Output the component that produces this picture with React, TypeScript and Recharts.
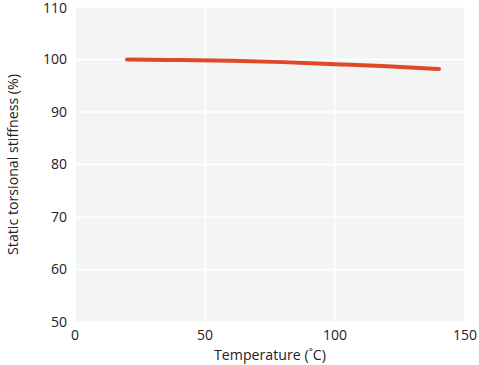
import { LineChart, Line, XAxis, YAxis, CartesianGrid, Label } from 'recharts';

const temperatures = [20, 40, 60, 80, 100, 120, 140];
const stiffness = [100.0, 99.9, 99.75, 99.5, 99.1, 98.7, 98.2];
const xTicks = [0, 50, 100, 150];
const yTicks = [50, 60, 70, 80, 90, 100, 110];

const data = temperatures.map((t, i) => ({ t, s: stiffness[i] }));

const font = '"Open Sans", "Noto Sans", sans-serif';
const tickStyle = { fill: '#222', fontSize: 14, fontFamily: font };

function YTitle({ viewBox }: { viewBox?: { x: number; y: number; width: number; height: number } }) {
  if (!viewBox) return null;
  const cx = viewBox.x + 12;
  const cy = viewBox.y + viewBox.height / 2;
  return (
    <text x={cx} y={cy} transform={`rotate(-90, ${cx}, ${cy})`} textAnchor="middle"
      dominantBaseline="central" fill="#222" fontSize={14.2} fontFamily={font}>
      Static torsional stiffness (%)
    </text>
  );
}

export default function App() {
  return (
    <div style={{ position: 'absolute', left: 0, top: 0, background: '#fff' }}>
      <LineChart width={479} height={365} data={data} margin={{ top: 7, right: 14, left: 0, bottom: 0 }}>
        <CartesianGrid fill="#f3f4f4" stroke="#ffffff" strokeWidth={1.5} />
        <XAxis
          dataKey="t" type="number" domain={[0, 150]} ticks={xTicks}
          axisLine={false} tickLine={false} height={43} tick={tickStyle}
        >
          <Label value="Temperature (˚C)" position="insideBottom" offset={5}
            style={{ fill: '#222', fontSize: 14.2, fontFamily: font }} />
        </XAxis>
        <YAxis
          type="number" domain={[50, 110]} ticks={yTicks}
          axisLine={false} tickLine={false} width={75} tick={tickStyle}
        >
          <Label content={<YTitle />} />
        </YAxis>
        <Line
          dataKey="s" type="monotone" stroke="#e2472a" strokeWidth={4}
          strokeLinecap="round" dot={false} isAnimationActive={false}
        />
      </LineChart>
    </div>
  );
}
